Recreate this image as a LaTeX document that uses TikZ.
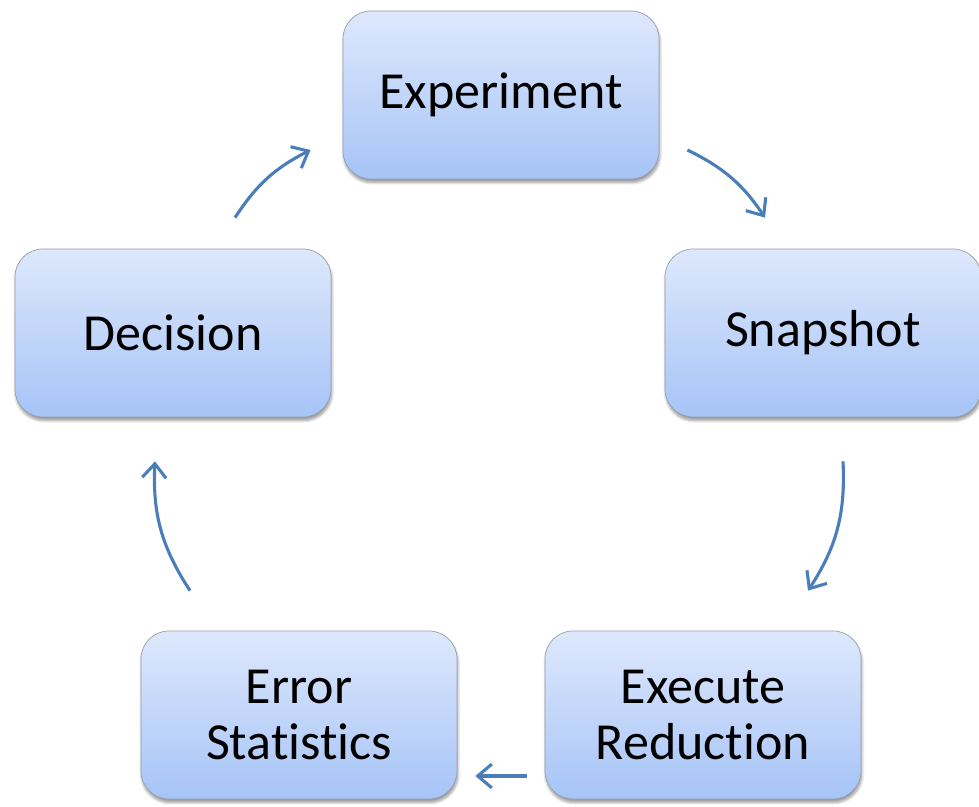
\documentclass[tikz,border=0pt]{standalone}
\usepackage{fontspec}
\setmainfont[RawFeature={-liga;-clig;-calt;-dlig}]{Carlito}
\usetikzlibrary{arrows.meta,positioning,calc,shadows.blur}
\definecolor{boxtop}{RGB}{222,232,252}
\definecolor{boxbot}{RGB}{166,196,247}
\definecolor{boxline}{RGB}{150,158,170}
\definecolor{arrblue}{RGB}{74,126,187}
\tikzset{
  % Process box: rounded, vertical gradient, soft shadow
  pbox/.style={draw=boxline, rectangle, rounded corners=0.7cm, line width=0.5pt,
               minimum width=7.9cm, minimum height=4.2cm, align=center,
               top color=boxtop, bottom color=boxbot,
               blur shadow={shadow xshift=0.6pt, shadow yshift=-2.5pt, shadow blur steps=6},
               font=\fontsize{37}{40}\selectfont},
  % Cycle arrows
  cyclearr/.style={-{Straight Barb[length=10pt,width=17pt,line width=2.2pt]},
                   draw=arrblue, line width=2.2pt}
}
\begin{document}
\begin{tikzpicture}[x=0.025cm, y=0.025cm]
\useasboundingbox (0,0) rectangle (979,807);

% ============== Boxes ==============
\node[pbox] (exp) at (501,712) {Experiment};
\node[pbox] (snap) at (823,474) {Snapshot};
\node[pbox] (exe) at (703,92) {Execute\\Reduction};
\node[pbox] (err) at (299,92) {Error\\Statistics};
\node[pbox] (dec) at (173,474) {Decision};

% ============== Cycle arrows ==============
\draw[cyclearr] ($(dec.north)+(62,31)$) to[bend left=15] ($(exp.west)+(-32,-55)$);
\draw[cyclearr] ($(exp.east)+(28,-55)$) to[bend left=15] ($(snap.north)+(-58,31)$);
\draw[cyclearr] ($(snap.south)+(20,-44)$) to[bend left=18] ($(exe.north)+(105,40)$);
\draw[cyclearr] ($(exe.west)+(-18,-61)$) -- ($(err.east)+(18,-61)$);
\draw[cyclearr] ($(err.north)+(-109,40)$) to[bend left=18] ($(dec.south)+(-18,-44)$);

\end{tikzpicture}
\end{document}
